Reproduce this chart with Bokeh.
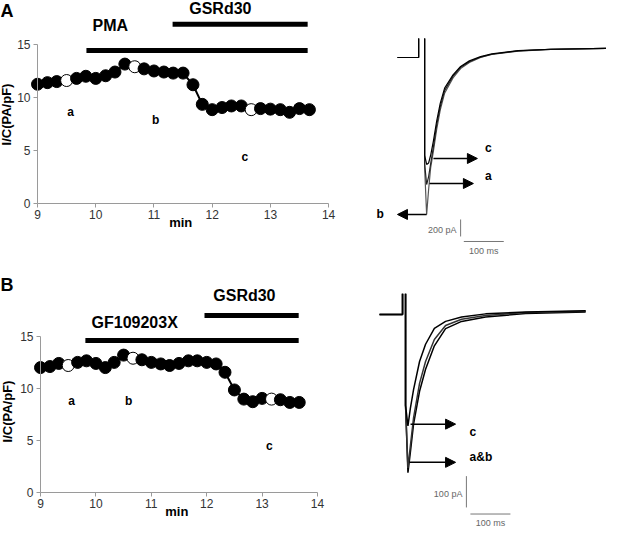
from bokeh.plotting import figure
from bokeh.models import (LinearAxis, Label, Arrow, NormalHead, Range1d,
                          FixedTicker, ColumnDataSource)
from bokeh.layouts import column, row
from bokeh.embed import file_html
from bokeh.resources import INLINE

NaN = float("nan")

# ---------------- data ----------------
time_min = [9.0, 9.17, 9.33, 9.5, 9.67, 9.83, 10.0, 10.17, 10.33, 10.5, 10.67,
            10.83, 11.0, 11.17, 11.33, 11.5, 11.67, 11.83, 12.0, 12.17, 12.33,
            12.5, 12.67, 12.83, 13.0, 13.17, 13.33, 13.5, 13.67]
ic_a = [11.25, 11.4, 11.5, 11.6, 11.8, 12.0, 11.8, 12.05, 12.4, 13.15, 12.9,
        12.7, 12.5, 12.4, 12.3, 12.3, 11.2, 9.35, 8.85, 9.05, 9.2, 9.2, 8.85,
        8.95, 8.9, 8.85, 8.6, 8.95, 8.85]
ic_b = [12.0, 12.1, 12.4, 12.2, 12.5, 12.65, 12.4, 12.0, 12.5, 13.2, 12.9,
        12.75, 12.5, 12.35, 12.2, 12.4, 12.65, 12.65, 12.5, 12.35, 11.55, 9.85,
        8.97, 8.72, 9.04, 8.97, 8.91, 8.65, 8.65]
sample_times_a = [9.5, 10.67, 12.67]
sample_times_b = [9.5, 10.67, 13.17]
sample_names = ["a", "b", "c"]
sample_label_pos_a = [(9.57, 8.6), (11.03, 7.9), (12.56, 4.4)]
sample_label_pos_b = [(9.56, 8.75), (10.59, 8.75), (13.13, 4.5)]

x_ticks = [9, 10, 11, 12, 13, 14]
y_ticks = [0, 5, 10, 15]

# drug application bars (name, start, end, level, label x, label y)
drugs_a = [("PMA", 9.84, 13.64, 14.43, 10.25, 16.8),
           ("GSRd30", 11.32, 13.64, 16.9, 12.14, 18.4)]
drugs_b = [("GF109203X", 9.81, 13.66, 14.6, 10.70, 16.3),
           ("GSRd30", 11.96, 13.66, 17.0, 12.68, 18.9)]

# current traces (ms, pA); NaN separates the voltage-step edge from the spike
trace_t_a = [-68, -15, -15, -15, 0, 0, 5, 10, 15, 22, 30, 39, 50, 71, 90, 112, 140,
             168, 234, 315, 454]
trace_a_b = [0, 0, 223, NaN, 223, -1300, -1847, -1550, -1300, -1100, -850, -620, -420,
             -240, -130, -60, 0, 35, 75, 95, 106]
trace_a_a = [0, 0, 223, NaN, 223, -1250, -1494, -1400, -1250, -1050, -800, -580, -390,
             -220, -115, -50, 5, 38, 78, 96, 106]
trace_a_c = [0, 0, 223, NaN, 223, -1150, -1258, -1240, -1150, -980, -750, -540, -360,
             -205, -105, -40, 10, 42, 80, 97, 106]

trace_t_b = [-65, -7.5, -7.5, -7.5, 0, 0, 6, 12, 20, 35, 50, 72, 100, 140, 200, 300, 450]
trace_b_c = [0, 0, 66, NaN, 66, -290, -356, -300, -240, -150, -95, -44, -22, -8, 2, 8, 12]
trace_b_a = [0, 0, 66, NaN, 66, -290, -490, -420, -330, -220, -150, -80, -35, -15, -3, 6, 10]
trace_b_b = [0, 0, 66, NaN, 66, -290, -505, -440, -350, -245, -175, -100, -45, -22, -8, 3, 8]

FONT = "Liberation Sans"


def time_course(width, height, xr, yr, ic, sample_times, label_pos, drugs,
                letter, letter_top, ylab_x, ylab_y):
    p = figure(width=width, height=height, x_range=Range1d(*xr), y_range=Range1d(*yr),
               output_backend="svg", toolbar_location=None,
               x_axis_location=None, y_axis_location=None, min_border=0,
               outline_line_color=None)
    p.xgrid.grid_line_color = None
    p.ygrid.grid_line_color = None
    for loc, side, bounds, ticks in [(0, "below", (9, 14), x_ticks),
                                     (9, "left", (0, 15), y_ticks)]:
        ax = LinearAxis()
        ax.fixed_location = loc
        ax.bounds = bounds
        ax.ticker = FixedTicker(ticks=ticks)
        ax.minor_tick_line_color = None
        ax.axis_line_color = "#9a9a9a"
        ax.major_tick_line_color = "#9a9a9a"
        ax.major_tick_in = 0
        ax.major_tick_out = 4
        ax.major_label_standoff = 3
        ax.major_label_text_font = FONT
        ax.major_label_text_font_size = "12px"
        ax.major_label_text_color = "#333333"
        p.add_layout(ax, side)

    colors = ["white" if t in sample_times else "black" for t in time_min]
    src = ColumnDataSource(dict(x=time_min, y=ic, c=colors))
    p.line("x", "y", source=src, line_color="black", line_width=2)
    p.scatter("x", "y", source=src, size=12, fill_color="c", line_color="black",
              line_width=1)

    for name, x0, x1, lev, lx, ly in drugs:
        p.segment(x0=[x0], y0=[lev], x1=[x1], y1=[lev], line_color="black",
                  line_width=5)
        p.add_layout(Label(x=lx, y=ly, text=name, text_font=FONT,
                           text_font_style="bold", text_font_size="16px",
                           text_color="black",
                           text_align="center", text_baseline="middle"))
    for name, (lx, ly) in zip(sample_names, label_pos):
        p.add_layout(Label(x=lx, y=ly, text=name, text_font=FONT,
                           text_font_style="bold", text_font_size="12px",
                           text_color="black",
                           text_align="center", text_baseline="middle"))
    p.add_layout(Label(x=11.46, y=-1.8, text="min", text_font=FONT,
                       text_font_style="bold", text_font_size="13px",
                       text_color="black",
                       text_align="center", text_baseline="middle"))
    p.add_layout(Label(x=0, y=height - letter_top, x_units="screen",
                       y_units="screen", text=letter, text_font=FONT,
                       text_font_style="bold", text_font_size="18px",
                       text_color="black", text_baseline="top"))
    p.add_layout(Label(x=ylab_x, y=ylab_y, x_units="screen", y_units="screen",
                       text="I/C(PA/pF)", angle=1.5708, text_font=FONT,
                       text_font_style="bold", text_font_size="13px",
                       text_color="black",
                       text_align="center", text_baseline="middle"))
    return p


pA = time_course(345, 262, (8.364, 14.29), (-5.57, 19.15), ic_a, sample_times_a,
                 sample_label_pos_a, drugs_a, "A", 0, 6, 262 - 114)
pB = time_course(345, 265, (8.278, 14.505), (-3.37, 22.1), ic_b, sample_times_b,
                 sample_label_pos_b, drugs_b, "B", 12, 7, 265 - 149)


def trace_panel(width, height, xr, yr, t, traces, arrows, labels, bar, bar_text):
    p = figure(width=width, height=height, x_range=Range1d(*xr), y_range=Range1d(*yr),
               output_backend="svg", toolbar_location=None,
               x_axis_location=None, y_axis_location=None, min_border=0,
               outline_line_color=None)
    p.xgrid.grid_line_color = None
    p.ygrid.grid_line_color = None
    for tr, col, lw in traces:
        p.line(t, tr, line_color=col, line_width=lw)
    for x0, x1, y in arrows:
        p.add_layout(Arrow(end=NormalHead(size=10, fill_color="black",
                                          line_color="black"),
                           x_start=x0, y_start=y, x_end=x1, y_end=y,
                           line_color="black", line_width=1.5))
    for text, x, y, align in labels:
        p.add_layout(Label(x=x, y=y, text=text, text_font=FONT,
                           text_font_style="bold", text_font_size="12px",
                           text_color="black",
                           text_align=align, text_baseline="middle"))
    bx, by, bms, bpa, hx, hy = bar
    p.segment(x0=[bx], y0=[by], x1=[bx], y1=[by - bpa], line_color="#777777",
              line_width=1)
    p.segment(x0=[hx], y0=[hy], x1=[hx + bms], y1=[hy], line_color="#777777",
              line_width=1)
    (t1, x1, y1), (t2, x2, y2) = bar_text
    p.add_layout(Label(x=x1, y=y1, text=t1, text_font=FONT, text_font_size="9px",
                       text_color="#666666", text_align="right",
                       text_baseline="middle"))
    p.add_layout(Label(x=x2, y=y2, text=t2, text_font=FONT, text_font_size="9px",
                       text_color="#666666", text_align="center",
                       text_baseline="middle"))
    return p


tA = trace_panel(261, 262, (-198, 455), (-2411, 670), trace_t_a,
                 [(trace_a_b, "#555555", 1.2), (trace_a_a, "#222222", 1.2),
                  (trace_a_c, "black", 1.2)],
                 [(22, 132, -1188), (12, 122, -1482), (5, -68, -1846)],
                 [("c", 151, -1070, "left"), ("a", 151, -1388, "left"),
                  ("b", -102, -1846, "right")],
                 (90, -1905, 100, 200, 98, -2164),
                 [("200 pA", 80, -2023), ("100 ms", 148, -2270)])

tB = trace_panel(261, 265, (-150, 502), (-680, 166), trace_t_b,
                 [(trace_b_b, "black", 1.5), (trace_b_a, "#333333", 1.5),
                  (trace_b_c, "black", 1.5)],
                 [(12.5, 125, -350), (10, 125, -472)],
                 [("c", 160, -375, "left"), ("a&b", 160, -456, "left")],
                 (152, -516, 100, 100, 162, -637),
                 [("100 pA", 142, -572), ("100 ms", 212, -665)])

layout = column(row(pA, tA), row(pB, tB), spacing=0)
open("out.html", "w").write(file_html(layout, INLINE))
